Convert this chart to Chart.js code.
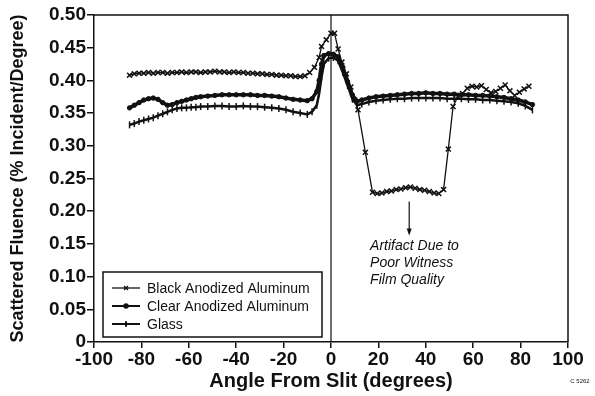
<!DOCTYPE html>
<html>
<head>
<meta charset="utf-8">
<script src="https://cdn.jsdelivr.net/npm/chart.js@4.4.0/dist/chart.umd.min.js"></script>
<style>
  html, body { margin: 0; padding: 0; background: #fff; }
</style>
</head>
<body>
<canvas id="fluenceChart" width="595" height="396"></canvas>
<script>
// values
const seriesNames = ["Black Anodized Aluminum", "Clear Anodized Aluminum", "Glass"];

const blackAngles = [
  -85, -83, -81, -79, -77, -75, -73, -71, -69, -67, -65, -63, -61, -59, -57, -55, -53, -51, -49, -47,
  -45, -43, -41, -39, -37, -35, -33, -31, -29, -27, -25, -23, -21, -19, -17, -15, -13, -11, -9,
  -7, -5, -4, -2, 0, 1.5, 3, 4.6, 6.5, 8.4, 10, 11.4, 14.5, 17.5, 19.5, 21.5, 23.5, 25.5, 27.5,
  29.5, 31.5, 33.5, 35.5, 37.5, 39.5, 41.5, 43.5, 45.5, 47.5, 49.5, 51.5, 53.5, 55.5, 57.5, 59.5,
  61.5, 63.5, 65.5, 67.5, 69.5, 71.5, 73.5, 75.5, 77.5, 79.5, 81.5, 83.5
];
const blackFluence = [
  0.408, 0.410, 0.411, 0.411, 0.412, 0.411, 0.412, 0.412, 0.411, 0.412, 0.412, 0.413, 0.412, 0.413, 0.413, 0.412, 0.413, 0.413, 0.414, 0.413,
  0.413, 0.412, 0.413, 0.412, 0.412, 0.411, 0.411, 0.410, 0.410, 0.409, 0.409, 0.408, 0.408, 0.407, 0.407, 0.406, 0.406, 0.407, 0.412,
  0.420, 0.435, 0.452, 0.462, 0.472, 0.472, 0.448, 0.428, 0.410, 0.390, 0.370, 0.355, 0.290, 0.229, 0.227, 0.228, 0.230, 0.231, 0.233,
  0.234, 0.236, 0.237, 0.235, 0.233, 0.232, 0.230, 0.228, 0.227, 0.233, 0.295, 0.360, 0.375, 0.380, 0.388, 0.391,
  0.390, 0.392, 0.386, 0.381, 0.383, 0.388, 0.393, 0.384, 0.377, 0.382, 0.387, 0.391
];

const clearAngles = [
  -85, -83, -81, -79, -77, -75, -73, -71, -69, -67, -65, -63, -61, -59, -57, -55, -52, -49, -46, -43,
  -40, -37, -34, -31, -28, -25, -22, -19, -16, -13, -10, -8, -6, -5, -4, -3, -1, 1, 3, 5,
  7, 9, 11, 13, 16, 19, 22, 25, 28, 31, 34, 37, 40, 43, 46, 49, 52, 55, 58, 61,
  64, 67, 70, 73, 76, 79, 82, 85
];
const clearFluence = [
  0.358, 0.362, 0.366, 0.370, 0.372, 0.373, 0.371, 0.366, 0.362, 0.363, 0.366, 0.368, 0.370, 0.372, 0.374, 0.375, 0.376, 0.377, 0.378, 0.378,
  0.378, 0.378, 0.378, 0.377, 0.377, 0.376, 0.375, 0.373, 0.371, 0.370, 0.369, 0.372, 0.383, 0.400, 0.425, 0.438, 0.441, 0.440, 0.436, 0.420,
  0.398, 0.378, 0.368, 0.370, 0.373, 0.375, 0.376, 0.377, 0.378, 0.379, 0.380, 0.380, 0.381, 0.380, 0.380, 0.379, 0.379, 0.378, 0.378, 0.377,
  0.377, 0.376, 0.375, 0.374, 0.372, 0.370, 0.367, 0.363
];

const glassAngles = clearAngles;
const glassFluence = [
  0.332, 0.334, 0.337, 0.339, 0.341, 0.343, 0.346, 0.349, 0.352, 0.355, 0.357, 0.358, 0.358, 0.359, 0.359, 0.360, 0.360, 0.361, 0.361, 0.360,
  0.360, 0.361, 0.360, 0.360, 0.359, 0.358, 0.357, 0.355, 0.352, 0.350, 0.348, 0.352, 0.362, 0.380, 0.405, 0.425, 0.434, 0.435, 0.430, 0.412,
  0.392, 0.372, 0.362, 0.364, 0.367, 0.369, 0.370, 0.371, 0.372, 0.372, 0.373, 0.373, 0.373, 0.373, 0.373, 0.372, 0.372, 0.372, 0.371, 0.371,
  0.370, 0.370, 0.369, 0.368, 0.367, 0.365, 0.361, 0.355
];

const xTickValues = [-100, -80, -60, -40, -20, 0, 20, 40, 60, 80, 100];
const yTickValues = [0, 0.05, 0.10, 0.15, 0.20, 0.25, 0.30, 0.35, 0.40, 0.45, 0.50];
const artifactNote = ["Artifact Due to", "Poor Witness", "Film Quality"];
const figureId = "C 5262";

const toPoints = (xs, ys) => xs.map((a, i) => ({ x: a, y: ys[i] }));
const INK = "#111";

const paperDecor = {
  id: "paperDecor",
  afterDatasetsDraw(chart) {
    const { ctx, chartArea: a, scales } = chart;
    const x = scales.x, y = scales.y;
    ctx.save();
    ctx.strokeStyle = INK;
    ctx.fillStyle = INK;

    // frame top and right
    ctx.lineWidth = 1.5;
    ctx.beginPath();
    ctx.moveTo(a.left, a.top);
    ctx.lineTo(a.right, a.top);
    ctx.lineTo(a.right, a.bottom);
    ctx.stroke();

    // slit line at 0 degrees
    const x0 = x.getPixelForValue(0);
    ctx.lineWidth = 1.2;
    ctx.beginPath();
    ctx.moveTo(x0, a.top);
    ctx.lineTo(x0, a.bottom);
    ctx.stroke();

    // arrow to the note
    const ax = x.getPixelForValue(33);
    const ay1 = y.getPixelForValue(0.215);
    const ay2 = y.getPixelForValue(0.166);
    ctx.lineWidth = 1.2;
    ctx.beginPath();
    ctx.moveTo(ax, ay1);
    ctx.lineTo(ax, ay2);
    ctx.stroke();
    ctx.beginPath();
    ctx.moveTo(ax, ay2 + 2);
    ctx.lineTo(ax - 2.5, ay2 - 5);
    ctx.lineTo(ax + 2.5, ay2 - 5);
    ctx.closePath();
    ctx.fill();

    // note text
    ctx.font = "italic 14px 'Liberation Sans', Arial, sans-serif";
    ctx.textAlign = "left";
    ctx.textBaseline = "middle";
    const nx = x.getPixelForValue(16.5);
    artifactNote.forEach((line, i) => {
      ctx.fillText(line, nx, y.getPixelForValue(0.146) + i * 17);
    });

    // legend box, lower left inside the plot
    const lx = a.left + 9, ly = a.bottom - 70;
    const lw = 219, lh = 65;
    ctx.lineWidth = 1.5;
    ctx.strokeRect(lx, ly, lw, lh);
    ctx.font = "14px 'Liberation Sans', Arial, sans-serif";
    chart.data.datasets.forEach((ds, i) => {
      const cy = ly + 16 + i * 18;
      ctx.lineWidth = Math.min(ds.borderWidth, 2);
      ctx.beginPath();
      ctx.moveTo(lx + 9, cy);
      ctx.lineTo(lx + 37, cy);
      ctx.stroke();
      Chart.helpers.drawPoint(ctx, {
        pointStyle: ds.pointStyle,
        rotation: ds.pointRotation || 0,
        radius: ds.pointRadius * 0.8,
        borderWidth: 1
      }, lx + 23, cy);
      ctx.fillText(ds.label, lx + 44, cy + 1);
    });

    // figure id
    ctx.font = "6px 'Liberation Sans', Arial, sans-serif";
    ctx.textAlign = "center";
    ctx.fillText(figureId, 580, 381);
    ctx.restore();
  }
};

const tickFont = { family: "'Liberation Sans', Arial, sans-serif", size: 19, weight: "bold" };
const yTitleFont = { family: "'Liberation Sans', Arial, sans-serif", size: 18, weight: "bold", lineHeight: 1.2 };
const xTitleFont = { family: "'Liberation Sans', Arial, sans-serif", size: 20, weight: "bold", lineHeight: 1.2 };

new Chart(document.getElementById("fluenceChart"), {
  type: "line",
  data: {
    datasets: [
      {
        label: seriesNames[0],
        data: toPoints(blackAngles, blackFluence),
        borderColor: INK, backgroundColor: INK,
        borderWidth: 1.3,
        pointStyle: "crossRot", pointRadius: 3.5, pointBorderWidth: 1.5
      },
      {
        label: seriesNames[1],
        data: toPoints(clearAngles, clearFluence),
        borderColor: INK, backgroundColor: INK,
        borderWidth: 3.5,
        pointStyle: "circle", pointRadius: 2.2, pointBorderWidth: 1
      },
      {
        label: seriesNames[2],
        data: toPoints(glassAngles, glassFluence),
        borderColor: INK, backgroundColor: INK,
        borderWidth: 2.5,
        pointStyle: "line", pointRotation: 90, pointRadius: 3.5, pointBorderWidth: 1.5
      }
    ]
  },
  options: {
    responsive: false,
    animation: false,
    layout: { padding: { top: 15, right: 27, left: 0, bottom: 0 } },
    plugins: { legend: { display: false }, tooltip: { enabled: false } },
    elements: { line: { tension: 0 } },
    scales: {
      x: {
        type: "linear",
        min: -100, max: 100,
        afterBuildTicks: (s) => { s.ticks = xTickValues.map((v) => ({ value: v })); },
        afterFit: (s) => { s.height = 54; },
        ticks: { color: INK, font: tickFont, padding: 0, maxRotation: 0 },
        grid: { drawOnChartArea: false, drawTicks: true, tickLength: 6, color: INK, lineWidth: 1.5 },
        border: { color: INK, width: 1.5 },
        title: {
          display: true, text: "Angle From Slit (degrees)",
          color: INK, font: xTitleFont, padding: { top: 0, bottom: 3 }
        }
      },
      y: {
        min: 0, max: 0.5,
        afterBuildTicks: (s) => { s.ticks = yTickValues.map((v) => ({ value: v })); },
        afterFit: (s) => { s.width = 94; },
        ticks: {
          color: INK, font: tickFont, padding: 1,
          callback: (v) => (v === 0 ? "0" : v.toFixed(2))
        },
        grid: { drawOnChartArea: false, drawTicks: true, tickLength: 7, color: INK, lineWidth: 1.5 },
        border: { color: INK, width: 1.5 },
        title: {
          display: true, text: "Scattered Fluence (% Incident/Degree)",
          color: INK, font: yTitleFont, padding: { top: 7, bottom: 0 }
        }
      }
    }
  },
  plugins: [paperDecor]
});
</script>
</body>
</html>
